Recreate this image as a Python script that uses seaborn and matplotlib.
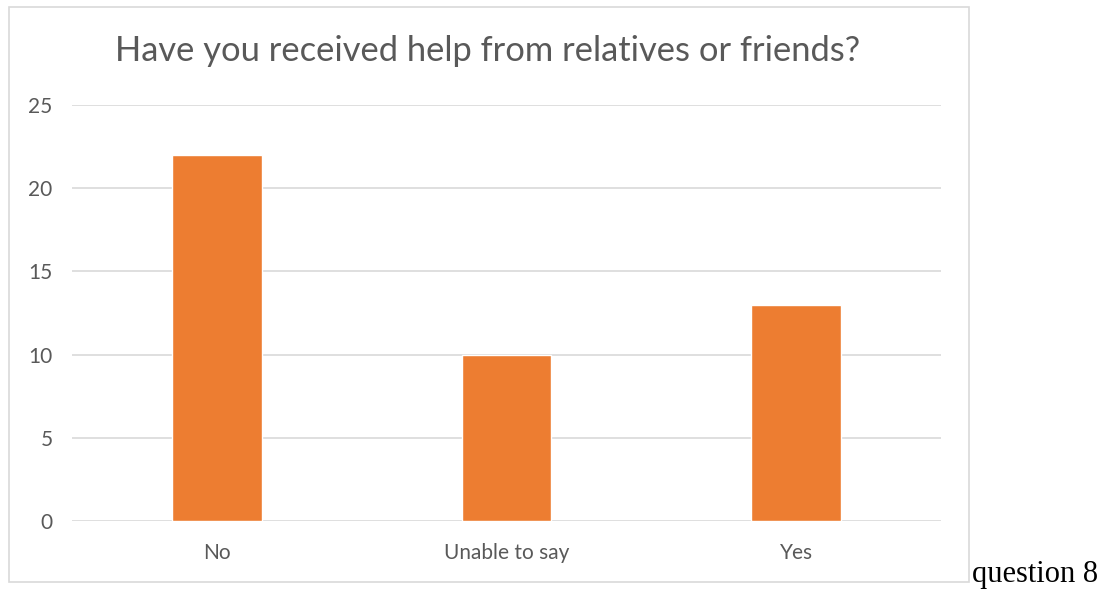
import matplotlib
matplotlib.use("Agg")
import matplotlib.pyplot as plt
from matplotlib.patches import Rectangle
import seaborn as sns
import pandas as pd

# Survey answers and counts
categories = ["No", "Unable to say", "Yes"]
counts = [22, 10, 13]
y_ticks = [0, 5, 10, 15, 20, 25]

title = "Have you received help from relatives or friends?"
caption = "question 8"

sns.set_theme(style="white")
plt.rcParams["font.family"] = ["Lato", "DejaVu Sans"]

W, H = 1109, 589
fig = plt.figure(figsize=(W / 100, H / 100), dpi=100)
fig.patch.set_facecolor("white")

# Chart frame
fig.patches.append(Rectangle((9 / W, 1 - 582 / H), 960 / W, 575 / H,
                             transform=fig.transFigure, fill=False,
                             edgecolor="#d9d9d9", linewidth=1.2))

ax = fig.add_axes([72 / W, 1 - 521 / H, (941 - 72) / W, (521 - 105) / H])
df = pd.DataFrame({"answer": categories, "count": counts})
sns.barplot(data=df, x="answer", y="count", color="#ED7D31", width=0.31,
            saturation=1, ax=ax)

ax.set_ylim(0, 25)
ax.set_yticks(y_ticks)
ax.set_xlim(-0.5, 2.5)
ax.set_xlabel("")
ax.set_ylabel("")
for s in ax.spines.values():
    s.set_visible(False)
ax.grid(axis="y", color="#d9d9d9", linewidth=1.2)
ax.set_axisbelow(True)
ax.tick_params(axis="both", length=0, labelsize=15, labelcolor="#595959")
ax.tick_params(axis="y", pad=14)
ax.tick_params(axis="x", pad=16)

fig.text(488 / W, 1 - 51 / H, title, ha="center", va="center",
         fontsize=24.8, color="#595959")
fig.text(972 / W, 1 - 582 / H, caption, ha="left", va="baseline",
         fontsize=22, color="black", family=["Liberation Serif"])

fig.savefig("out.png", dpi=100)
